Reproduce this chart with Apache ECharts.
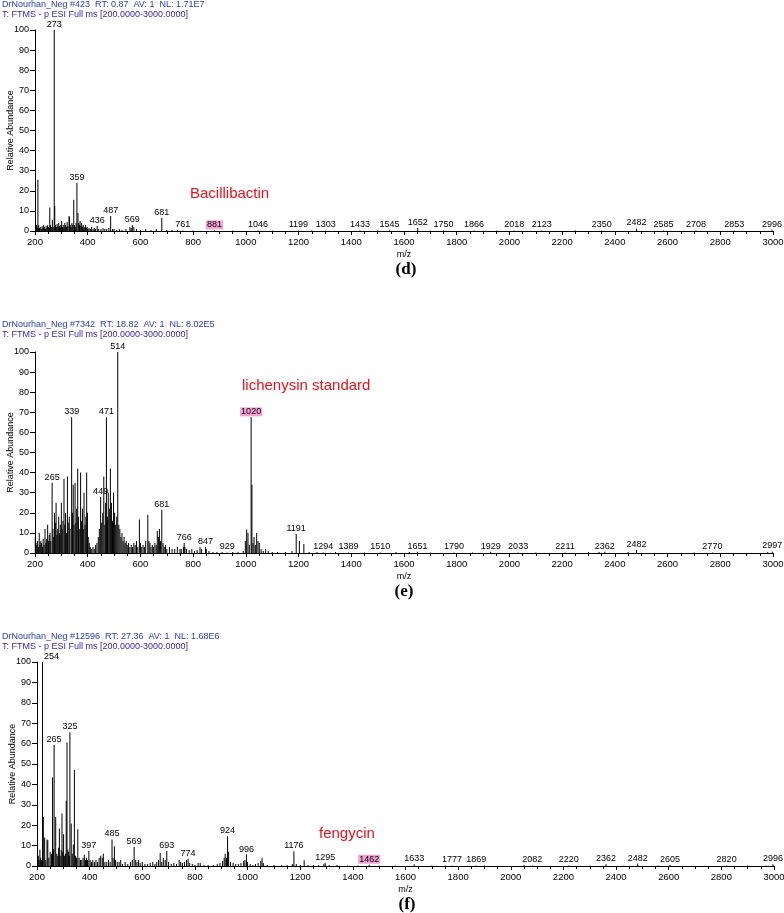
<!DOCTYPE html>
<html><head><meta charset="utf-8">
<script src="https://cdn.jsdelivr.net/npm/echarts@6/dist/echarts.min.js"></script>
<style>html,body{margin:0;padding:0;background:#fff}#c{width:784px;height:913px}</style>
</head><body><div id="c"></div>
<script>
// ---------- DATA ----------
const xTicks = [200,400,600,800,1000,1200,1400,1600,1800,2000,2200,2400,2600,2800,3000];
const yTicks = [0,10,20,30,40,50,60,70,80,90,100];

const dHeader1 = 'DrNourhan_Neg #423  RT: 0.87  AV: 1  NL: 1.71E7';
const dHeader2 = 'T: FTMS - p ESI Full ms [200.0000-3000.0000]';
const dCompound = 'Bacillibactin';
const dHighlight = '881';
// unlabeled sticks [m/z, relative abundance]
const dPeaks = [[203,2],[206,3],[209,1.5],[211,25.5],[214,3],[217,1.5],[220,2],[224,1],[227,2.5],[230,1.5],[233,3],[236,2],[239,1],[242,2.5],[245,1.5],[248,3],[251,2],[254,1.5],[256,11.7],[259,3],[262,2],[266,5.5],[269,2],[275,12.5],[278,3],[281,2],[284,3.5],[287,2],[290,4],[293,2.5],[296,1.5],[298,3],[301,5],[304,2],[307,3],[310,2],[313,4],[316,3],[319,2],[322,4.5],[325,2.5],[329,7.5],[331,7],[334,3],[337,2],[340,4],[343,3],[347,15.5],[350,3],[353,2],[356,4],[363,9],[366,4],[369,3],[371,5],[374,2.5],[377,4],[380,2],[383,3],[386,1.5],[389,2],[392,3],[395,1.5],[398,2],[401,1],[405,1.5],[410,1],[415,2],[420,1],[425,1.5],[430,1],[442,1],[450,1],[458,1.5],[465,1],[472,1],[480,1.5],[494,1],[500,1],[510,0.5],[520,1],[530,0.5],[545,1],[560,2],[565,1.5],[575,2],[585,1],[600,0.5],[620,1],[640,0.5],[660,1],[700,0.5],[720,0.5],[740,0.5],[800,0.3],[950,0.3],[1100,0.3],[1250,0.3],[1500,0.3],[1700,0.3],[1950,0.3],[2250,0.3]];
// labelled sticks [m/z, relative abundance]
const dLabeled = [[273,100],[359,24],[436,2.5],[487,7.5],[569,3],[681,6.5],[761,0.3],[881,0.3],[1046,0.3],[1199,0.3],[1303,0.3],[1433,0.3],[1545,0.3],[1652,1.5],[1750,0.3],[1866,0.3],[2018,0.3],[2123,0.3],[2350,0.3],[2482,1.3],[2585,0.3],[2708,0.3],[2853,0.3],[2996,0.6]];

const eHeader1 = 'DrNourhan_Neg #7342  RT: 18.82  AV: 1  NL: 8.02E5';
const eHeader2 = 'T: FTMS - p ESI Full ms [200.0000-3000.0000]';
const eCompound = 'lichenysin standard';
const eHighlight = '1020';
const ePeaks = [[201,8],[204,5],[207,4],[210,6],[213,3],[216,10],[219,4],[222,6],[225,5],[228,3],[231,7],[234,4],[238,12],[241,5],[244,7],[248,14],[251,6],[254,9],[257,10],[260,6],[268,12],[271,8],[274,20],[277,15],[280,25],[283,9],[286,12],[290,18],[293,10],[296,14],[300,25],[303,12],[306,16],[310,37],[313,14],[316,20],[320,10],[323,38],[326,15],[330,18],[333,12],[342,20],[345,34],[348,14],[352,35],[355,15],[358,22],[362,42],[365,18],[368,12],[373,40],[376,16],[380,22],[383,12],[386,30],[390,14],[393,18],[396,40],[399,20],[402,8],[406,5],[410,3],[415,2],[420,3],[425,2],[430,4],[435,5],[440,8],[444,12],[453,15],[457,20],[461,38],[465,14],[468,25],[475,18],[478,30],[482,22],[486,42],[490,25],[494,16],[498,30],[502,20],[506,14],[510,18],[518,14],[522,12],[526,8],[530,10],[534,6],[538,8],[542,5],[546,6],[550,4],[555,5],[560,3],[565,4],[570,3],[575,5],[580,4],[585,6],[590,3],[596,16.7],[600,5],[605,3],[610,4],[615,3],[620,6],[628,19],[632,6],[636,5],[640,3],[645,4],[650,3],[655,5],[660,4],[664,11],[668,8],[672,12],[676,6],[686,5],[690,3],[695,4],[700,2],[710,3],[720,2],[730,2],[740,3],[750,2],[755,2],[763,3],[769,3],[775,2],[785,1.5],[795,2],[805,1],[815,1.5],[826,3],[832,2],[850,2],[860,1],[875,0.5],[890,0.5],[910,0.5],[950,0.5],[970,0.5],[990,1],[998,6],[1003,11.7],[1008,10],[1013,4],[1023,34],[1027,5],[1031,8],[1036,4],[1041,10],[1046,6],[1051,5],[1058,2],[1066,1],[1075,2],[1085,1],[1100,0.5],[1120,0.5],[1150,0.5],[1175,1],[1203,6],[1220,4.5],[1240,0.5],[1270,0.5],[1340,0.5],[1450,0.3],[1570,0.5],[1620,0.5],[1700,0.3],[1860,0.3],[2100,0.3],[2300,0.5],[2340,0.5],[2450,0.5],[2700,0.3],[2980,0.5]];
const eLabeled = [[265,35],[339,67.5],[449,28],[471,67.5],[514,100],[681,21.5],[766,5],[847,3],[929,0.3],[1020,67.5],[1191,9.5],[1294,0.3],[1389,0.3],[1510,0.3],[1651,0.6],[1790,0.3],[1929,0.6],[2033,0.3],[2211,0.3],[2362,0.6],[2482,1.5],[2770,0.3],[2997,0.8]];

const fHeader1 = 'DrNourhan_Neg #12596  RT: 27.36  AV: 1  NL: 1.68E6';
const fHeader2 = 'T: FTMS - p ESI Full ms [200.0000-3000.0000]';
const fCompound = 'fengycin';
const fHighlight = '1462';
const fPeaks = [[202,28],[205,5],[208,3],[211,8],[214,4],[217,3],[224,24],[229,14],[233,3],[238,13],[241,12.6],[245,4],[250,7],[255,6],[259,43.4],[263,8.5],[271,24],[275,6],[279,5],[282,9],[285,18.4],[288,5],[292,8],[295,25.7],[298,7],[301,15.6],[305,5],[308,6],[311,32],[314,60.6],[317,8],[320,7],[323,5],[330,20.8],[334,6],[338,10.6],[342,47],[346,5],[350,4],[355,18],[360,4],[365,3],[370,3],[375,4],[380,5.5],[384,3],[388,4],[392,3],[402,3],[407,2],[412,3],[418,2],[424,3],[430,2],[436,4],[442,5],[448,4],[452,6],[458,2],[465,2],[472,3],[478,2],[489,4],[494,9.7],[498,3],[505,2],[512,2],[518,3],[525,1],[535,2],[545,1],[555,2],[562,3],[575,3],[580,2],[586,3],[592,1.5],[600,2],[610,1],[620,1],[630,1.5],[640,2],[648,1],[655,2],[662,3],[668,6.4],[674,2],[680,4],[687,3],[700,2],[710,1],[720,1.5],[730,1],[740,3],[746,2],[752,1.5],[760,2],[768,3],[780,1.5],[790,1],[800,0.5],[812,1.5],[820,1.5],[835,0.5],[850,0.5],[870,0.5],[885,1],[895,1.5],[905,2.5],[911,4],[915,6],[920,4],[928,7],[935,2],[945,1.5],[955,1],[965,1],[975,1.5],[985,2.5],[990,3],[1000,2],[1010,1],[1020,0.5],[1030,1],[1040,1.5],[1050,2.5],[1055,4],[1060,1.5],[1075,0.5],[1100,0.5],[1130,0.5],[1150,0.5],[1170,1],[1185,1],[1200,0.5],[1215,2.8],[1230,0.5],[1250,0.5],[1270,0.5],[1290,1],[1310,0.5],[1340,0.5],[1380,0.3],[1420,0.3],[1500,0.3],[1560,0.3],[1700,0.3],[1750,0.3],[1900,0.3],[2050,0.5],[2300,0.3],[2430,0.3],[2560,0.3],[2900,0.3],[2970,0.3]];
const fLabeled = [[221,100,'254'],[265,59.3],[325,65.6],[397,7.4],[485,13],[569,9.3],[693,7.4],[774,3.6],[924,14.6],[996,5.6],[1176,7.2],[1295,1.5],[1462,0.6],[1633,0.8],[1777,0.3],[1869,0.3],[2082,0.3],[2220,0.3],[2362,0.8],[2482,1.2],[2605,0.6],[2820,0.3],[2996,0.8]];

// ---------- STYLE / BUILD ----------
const FONT = '"Liberation Sans", Arial, sans-serif';
const panels = [
  {h1:dHeader1,h2:dHeader2,comp:dCompound,hl:dHighlight,peaks:dPeaks,lab:dLabeled,letter:'(d)',
   grid:{left:35,right:11,top:30,height:201}, hy:5, compPos:[190,194], letterPos:[406,270]},
  {h1:eHeader1,h2:eHeader2,comp:eCompound,hl:eHighlight,peaks:ePeaks,lab:eLabeled,letter:'(e)',
   grid:{left:35,right:11,top:352,height:201}, hy:325, compPos:[242,386], letterPos:[404,592]},
  {h1:fHeader1,h2:fHeader2,comp:fCompound,hl:fHighlight,peaks:fPeaks,lab:fLabeled,letter:'(f)',
   grid:{left:37,right:10,top:662,height:204}, hy:637, compPos:[319,834], letterPos:[407,905]}
];
const labelShift = {'254':[9,0]};

const grids=[], xAxes=[], yAxes=[], series=[], graphics=[];
panels.forEach((p,i)=>{
  grids.push(Object.assign({containLabel:false,outerBoundsMode:'none'},p.grid));
  xAxes.push({type:'value',gridIndex:i,min:xTicks[0],max:xTicks[xTicks.length-1],interval:xTicks[1]-xTicks[0],
    axisLine:{show:true,lineStyle:{color:'#000',width:1}},
    axisTick:{show:true,length:4,lineStyle:{color:'#000'}},
    minorTick:{show:true,splitNumber:4,length:3,lineStyle:{color:'#000'}},
    splitLine:{show:false},minorSplitLine:{show:false},
    axisLabel:{fontSize:9.5,color:'#000',fontFamily:FONT,margin:6,formatter:v=>String(v)},
    name:'m/z',nameLocation:'middle',nameGap:19,nameMoveOverlap:false,
    nameTextStyle:{fontSize:9,color:'#000',fontFamily:FONT}});
  yAxes.push({type:'value',gridIndex:i,min:yTicks[0],max:yTicks[yTicks.length-1],interval:yTicks[1]-yTicks[0],
    axisLine:{show:true,lineStyle:{color:'#000',width:1}},
    axisTick:{show:true,length:5,lineStyle:{color:'#000'}},
    splitLine:{show:false},
    axisLabel:{fontSize:9,color:'#000',fontFamily:FONT,margin:6,formatter:v=>String(v)},
    name:'Relative Abundance',nameLocation:'middle',nameRotate:90,nameGap:20,nameMoveOverlap:false,
    nameTextStyle:{fontSize:9,color:'#000',fontFamily:FONT}});
  const data = p.peaks.map(v=>[v[0],v[1]]);
  p.lab.forEach(v=>{
    const txt = v[2] || String(v[0]);
    const lab = {show:true,position:'top',distance:1,formatter:txt,fontSize:9,color:'#000',fontFamily:FONT,
      offset: labelShift[txt] || [0,0]};
    if (txt===p.hl){ lab.backgroundColor='#f3a3d6'; lab.padding=[0,1]; }
    data.push({value:[v[0],v[1]],label:lab});
  });
  series.push({type:'bar',xAxisIndex:i,yAxisIndex:i,barWidth:1,data:data,
    itemStyle:{color:'#000'},silent:true,animation:false,large:false});
  graphics.push({type:'text',style:{text:p.h1,x:2,y:p.hy,font:'9px '+FONT,fill:'#2b3db4',textVerticalAlign:'middle'}});
  graphics.push({type:'text',style:{text:p.h2,x:2,y:p.hy+10,font:'9px '+FONT,fill:'#3a2a9c',textVerticalAlign:'middle'}});
  graphics.push({type:'text',style:{text:p.comp,x:p.compPos[0],y:p.compPos[1],font:'15px '+FONT,fill:'#e3141c',textVerticalAlign:'middle'}});
  graphics.push({type:'text',style:{text:p.letter,x:p.letterPos[0],y:p.letterPos[1],font:'bold 17px "Liberation Serif", "Times New Roman", serif',fill:'#000',textAlign:'center',textVerticalAlign:'middle'}});
});

const chart = echarts.init(document.getElementById('c'),null,{renderer:'canvas'});
chart.setOption({animation:false,backgroundColor:'#fff',grid:grids,xAxis:xAxes,yAxis:yAxes,series:series,graphic:graphics});
</script></body></html>
